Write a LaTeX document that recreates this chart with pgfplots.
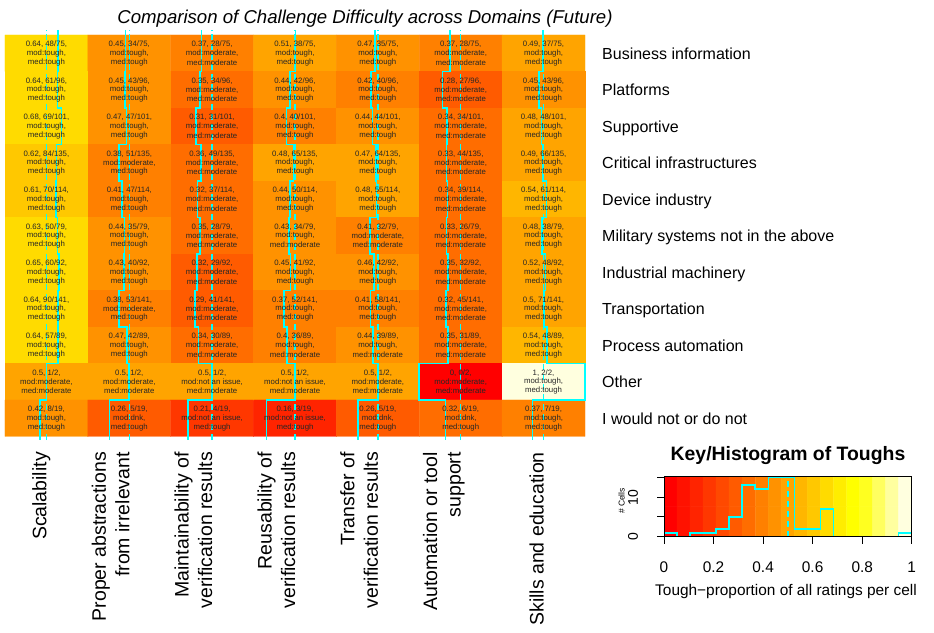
\documentclass[border=0pt]{standalone}
\usepackage{pgfplots}
\pgfplotsset{compat=1.18}
\usepackage{pgfplotstable}
\usepackage{fontspec}
\setmainfont{Liberation Sans}
\definecolor{trace}{rgb}{0,1,1}
\pgfplotsset{
  colormap={heat}{rgb255=(255,0,0) rgb255=(255,18,0) rgb255=(255,36,0) rgb255=(255,55,0)
    rgb255=(255,73,0) rgb255=(255,91,0) rgb255=(255,109,0) rgb255=(255,128,0)
    rgb255=(255,146,0) rgb255=(255,164,0) rgb255=(255,182,0) rgb255=(255,200,0)
    rgb255=(255,219,0) rgb255=(255,237,0) rgb255=(255,255,0) rgb255=(255,255,32)
    rgb255=(255,255,96) rgb255=(255,255,159) rgb255=(255,255,223)},
  celltext/.style={only marks, mark=none, point meta=explicit symbolic,
    nodes near coords align=center,
    every node near coord/.append style={anchor=center, inner sep=0pt,
      font=\fontsize{7.8}{9}\selectfont, text=black!85, yshift=#1}},
}
\newcommand\colfont{\fontsize{19.5}{23.5}\selectfont}
\newcommand\rowfont{\fontsize{16}{19}\selectfont}
\begin{document}
\pgfplotstableread[col sep=semicolon]{
c;r;n;d;v;mo;me
0;0;48;75;0.64;tough;tough
1;0;34;75;0.45;tough;tough
2;0;28;75;0.37;moderate;moderate
3;0;38;75;0.51;tough;tough
4;0;35;75;0.47;tough;tough
5;0;28;75;0.37;moderate;moderate
6;0;37;75;0.49;tough;tough
0;1;61;96;0.64;tough;tough
1;1;43;96;0.45;tough;tough
2;1;34;96;0.35;moderate;moderate
3;1;42;96;0.44;tough;tough
4;1;40;96;0.42;tough;tough
5;1;27;96;0.28;moderate;moderate
6;1;43;96;0.45;tough;tough
0;2;69;101;0.68;tough;tough
1;2;47;101;0.47;tough;tough
2;2;31;101;0.31;moderate;moderate
3;2;40;101;0.4;tough;tough
4;2;44;101;0.44;tough;tough
5;2;34;101;0.34;moderate;moderate
6;2;48;101;0.48;tough;tough
0;3;84;135;0.62;tough;tough
1;3;51;135;0.38;moderate;tough
2;3;49;135;0.36;moderate;moderate
3;3;65;135;0.48;tough;tough
4;3;64;135;0.47;tough;tough
5;3;44;135;0.33;moderate;moderate
6;3;66;135;0.49;tough;tough
0;4;70;114;0.61;tough;tough
1;4;47;114;0.41;tough;tough
2;4;37;114;0.32;moderate;moderate
3;4;50;114;0.44;tough;tough
4;4;55;114;0.48;tough;tough
5;4;39;114;0.34;moderate;moderate
6;4;61;114;0.54;tough;tough
0;5;50;79;0.63;tough;tough
1;5;35;79;0.44;tough;tough
2;5;28;79;0.35;moderate;moderate
3;5;34;79;0.43;tough;moderate
4;5;32;79;0.41;moderate;moderate
5;5;26;79;0.33;moderate;moderate
6;5;38;79;0.48;tough;tough
0;6;60;92;0.65;tough;tough
1;6;40;92;0.43;tough;tough
2;6;29;92;0.32;moderate;moderate
3;6;41;92;0.45;tough;tough
4;6;42;92;0.46;tough;tough
5;6;32;92;0.35;moderate;moderate
6;6;48;92;0.52;tough;tough
0;7;90;141;0.64;tough;tough
1;7;53;141;0.38;moderate;tough
2;7;41;141;0.29;moderate;moderate
3;7;52;141;0.37;tough;tough
4;7;58;141;0.41;tough;tough
5;7;45;141;0.32;moderate;moderate
6;7;71;141;0.5;tough;tough
0;8;57;89;0.64;tough;tough
1;8;42;89;0.47;tough;tough
2;8;30;89;0.34;moderate;moderate
3;8;36;89;0.4;tough;moderate
4;8;39;89;0.44;tough;moderate
5;8;31;89;0.35;moderate;moderate
6;8;48;89;0.54;tough;tough
0;9;1;2;0.5;moderate;moderate
1;9;1;2;0.5;moderate;moderate
2;9;1;2;0.5;not an issue;moderate
3;9;1;2;0.5;not an issue;moderate
4;9;1;2;0.5;moderate;moderate
5;9;0;2;0;moderate;moderate
6;9;2;2;1;tough;tough
0;10;8;19;0.42;tough;tough
1;10;5;19;0.26;dnk;tough
2;10;4;19;0.21;not an issue;tough
3;10;3;19;0.16;not an issue;tough
4;10;5;19;0.26;dnk;tough
5;10;6;19;0.32;dnk;tough
6;10;7;19;0.37;tough;tough
}\cells
\pgfplotstableread{
y a b c d e f g
11.14 0.640 0.453 0.373 0.507 0.467 0.373 0.493
10 0.640 0.453 0.373 0.507 0.467 0.373 0.493
10 0.635 0.448 0.354 0.438 0.417 0.281 0.448
9 0.635 0.448 0.354 0.438 0.417 0.281 0.448
9 0.683 0.465 0.307 0.396 0.436 0.337 0.475
8 0.683 0.465 0.307 0.396 0.436 0.337 0.475
8 0.622 0.378 0.363 0.481 0.474 0.326 0.489
7 0.622 0.378 0.363 0.481 0.474 0.326 0.489
7 0.614 0.412 0.325 0.439 0.482 0.342 0.535
6 0.614 0.412 0.325 0.439 0.482 0.342 0.535
6 0.633 0.443 0.354 0.430 0.405 0.329 0.481
5 0.633 0.443 0.354 0.430 0.405 0.329 0.481
5 0.652 0.435 0.315 0.446 0.457 0.348 0.522
4 0.652 0.435 0.315 0.446 0.457 0.348 0.522
4 0.638 0.376 0.291 0.369 0.411 0.319 0.504
3 0.638 0.376 0.291 0.369 0.411 0.319 0.504
3 0.640 0.472 0.337 0.404 0.438 0.348 0.539
2 0.640 0.472 0.337 0.404 0.438 0.348 0.539
2 0.5 0.5 0.5 0.5 0.5 0 1
1 0.5 0.5 0.5 0.5 0.5 0 1
1 0.421 0.263 0.211 0.158 0.263 0.316 0.368
-0.1 0.421 0.263 0.211 0.158 0.263 0.316 0.368
}\trace
\pgfplotstableread{
k y
0 0.25
1 0.25
2 0.25
3 0.25
4 0.25
5 0.25
6 0.25
7 0.25
8 0.25
9 0.25
10 0.25
11 0.25
12 0.25
13 0.25
14 0.25
15 0.25
16 0.25
17 0.25
18 0.25
0 0.75
1 0.75
2 0.75
3 0.75
4 0.75
5 0.75
6 0.75
7 0.75
8 0.75
9 0.75
10 0.75
11 0.75
12 0.75
13 0.75
14 0.75
15 0.75
16 0.75
17 0.75
18 0.75
}\keybands
\pgfplotstableread{
k cnt
0 1
1 0
2 1
3 1
4 2
5 5
6 13
7 12
8 15
9 15
10 2
11 2
12 7
13 0
14 0
15 0
16 0
17 0
18 1
19 1
}\hist
\begin{tikzpicture}
\useasboundingbox (0pt,0pt) rectangle (934pt,632pt);
\begin{axis}[at={(5pt,195.5pt)}, anchor=south west, scale only axis,
  width=580pt, height=401.5pt, xmin=0, xmax=7, ymin=0, ymax=11,
  hide axis, clip=false, colormap name=heat, colormap access=piecewise constant,
  point meta min=0, point meta max=1, /pgf/number format/assume math mode=true]
\addplot[matrix plot*, mesh/cols=7, point meta={\thisrow{n}/\thisrow{d}-0.0002}]
  table[x expr=\thisrow{c}+0.5, y expr=10.5-\thisrow{r}] {\cells};
\addplot[celltext=9pt,
  visualization depends on={\thisrow{n}\as\cn},
  visualization depends on={\thisrow{d}\as\cd},
  nodes near coords={\pgfplotspointmeta, \pgfmathprintnumber[assume math mode=true]{\cn}/\pgfmathprintnumber[assume math mode=true]{\cd},}]
  table[x expr=\thisrow{c}+0.5, y expr=10.5-\thisrow{r}, meta=v] {\cells};
\addplot[celltext=0pt, nodes near coords={mod:\pgfplotspointmeta,}]
  table[x expr=\thisrow{c}+0.5, y expr=10.5-\thisrow{r}, meta=mo] {\cells};
\addplot[celltext=-9pt, nodes near coords={med:\pgfplotspointmeta}]
  table[x expr=\thisrow{c}+0.5, y expr=10.5-\thisrow{r}, meta=me] {\cells};
\addplot[trace, line width=1.6pt] table[x expr=\thisrow{a}, y=y] {\trace};
\addplot[trace, line width=1.6pt] table[x expr=1+\thisrow{b}, y=y] {\trace};
\addplot[trace, line width=1.6pt] table[x expr=2+\thisrow{c}, y=y] {\trace};
\addplot[trace, line width=1.6pt] table[x expr=3+\thisrow{d}, y=y] {\trace};
\addplot[trace, line width=1.6pt] table[x expr=4+\thisrow{e}, y=y] {\trace};
\addplot[trace, line width=1.6pt] table[x expr=5+\thisrow{f}, y=y] {\trace};
\addplot[trace, line width=1.6pt] table[x expr=6+\thisrow{g}, y=y] {\trace};
\addplot[trace, line width=1.3pt, dash pattern=on 6pt off 4pt] coordinates {(0.5,-0.1) (0.5,11.14)};
\addplot[trace, line width=1.3pt, dash pattern=on 6pt off 4pt] coordinates {(1.5,-0.1) (1.5,11.14)};
\addplot[trace, line width=1.3pt, dash pattern=on 6pt off 4pt] coordinates {(2.5,-0.1) (2.5,11.14)};
\addplot[trace, line width=1.3pt, dash pattern=on 6pt off 4pt] coordinates {(3.5,-0.1) (3.5,11.14)};
\addplot[trace, line width=1.3pt, dash pattern=on 6pt off 4pt] coordinates {(4.5,-0.1) (4.5,11.14)};
\addplot[trace, line width=1.3pt, dash pattern=on 6pt off 4pt] coordinates {(5.5,-0.1) (5.5,11.14)};
\addplot[trace, line width=1.3pt, dash pattern=on 6pt off 4pt] coordinates {(6.5,-0.1) (6.5,11.14)};
\end{axis}
\begin{axis}[at={(664pt,95.3pt)}, anchor=south west, scale only axis,
  width=247.7pt, height=60.6pt, xmin=0, xmax=1, ymin=0, ymax=15.3,
  axis on top, axis line style={black, line width=0.9pt},
  tick pos=left, tick align=outside, major tick length=7pt,
  tick style={black, line width=0.9pt},
  xtick={0,0.2,0.4,0.6,0.8,1}, xticklabels={}, ytick={0,5,10,15}, yticklabels={},
  colormap name=heat, colormap access=piecewise constant,
  point meta min=0, point meta max=1]
\addplot[matrix plot*, mesh/cols=19, point meta={(\thisrow{k}+0.5)/19}]
  table[x expr=(\thisrow{k}+0.5)/19, y expr=\thisrow{y}*15.3] {\keybands};
\addplot[trace, const plot, line width=1.6pt] table[x expr=\thisrow{k}/19, y=cnt] {\hist};
\addplot[trace, line width=1.3pt, dash pattern=on 6pt off 4pt] coordinates {(0.5,0) (0.5,15.3)};
\end{axis}
\begin{scope}[x=1pt, y=1pt]
\node[anchor=base, inner sep=0pt, font=\fontsize{18.6}{22}\selectfont\itshape] at (365,608) {Comparison of Challenge Difficulty across Domains (Future)};
\foreach \lab [count=\i] in {Business information, Platforms, Supportive, Critical infrastructures, Device industry, Military systems not in the above, Industrial machinery, Transportation, Process automation, Other, I would not or do not}
  \node[anchor=base west, inner sep=0pt, font=\rowfont] at (602,{632-(35+36.5*(\i-0.5)+6)}) {\lab};
\begin{scope}[every node/.style={rotate=90, anchor=base east, inner sep=0pt, font=\colfont}]
\node at (46.4,180) {Scalability};
\node at (105.8,180) {Proper abstractions};
\node at (129.3,180) {from irrelevant};
\node at (188.6,180) {Maintainability of};
\node at (212.1,180) {verification results};
\node at (271.5,180) {Reusability of};
\node at (295,180) {verification results};
\node at (354.4,180) {Transfer of};
\node at (377.9,180) {verification results};
\node at (437.2,180) {Automation or tool};
\node at (460.7,180) {support};
\node at (543.6,180) {Skills and education};
\end{scope}
\node[anchor=base, inner sep=0pt, font=\fontsize{19.4}{22}\selectfont\bfseries] at (788,171.3) {Key/Histogram of Toughs};
\begin{scope}[every node/.style={anchor=base, inner sep=0pt, font=\fontsize{15.4}{18}\selectfont}]
\node at (664,59.3) {0};
\node at (713.5,59.3) {0.2};
\node at (763.1,59.3) {0.4};
\node at (812.6,59.3) {0.6};
\node at (862.2,59.3) {0.8};
\node at (911.7,59.3) {1};
\node at (786,36.3) {Tough−proportion of all ratings per cell};
\end{scope}
\node[rotate=90, inner sep=0pt, font=\fontsize{14}{16}\selectfont] at (633,95.3) {0};
\node[rotate=90, inner sep=0pt, font=\fontsize{14}{16}\selectfont] at (633,134.7) {10};
\node[rotate=90, inner sep=0pt, font=\fontsize{8.5}{10}\selectfont] at (621.5,131) {\# Cells};
\end{scope}
\end{tikzpicture}
\end{document}
